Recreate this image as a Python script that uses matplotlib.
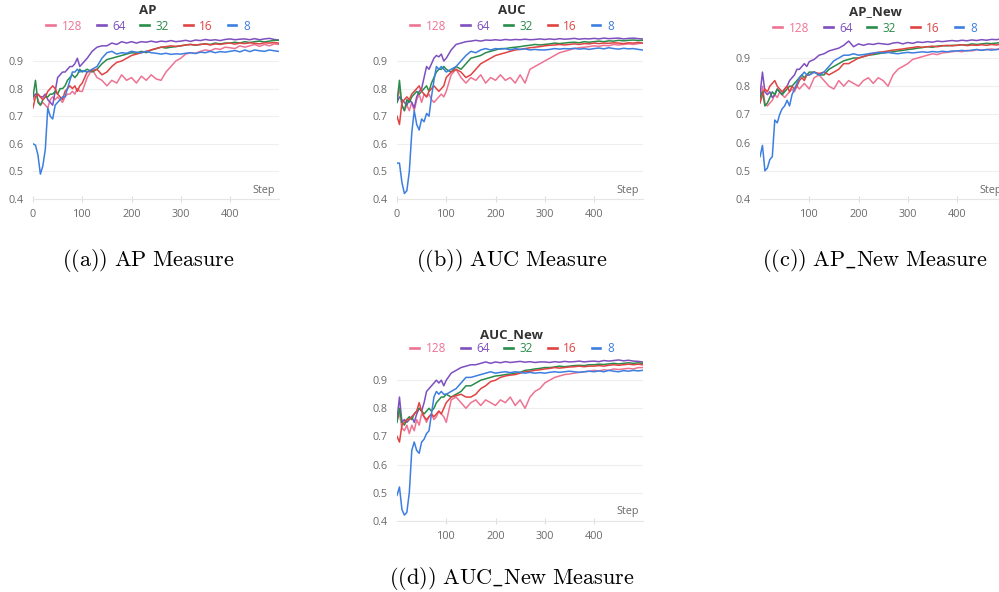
import matplotlib
matplotlib.use("Agg")
import matplotlib.pyplot as plt

plt.rcParams["font.family"] = ["Open Sans", "DejaVu Sans"]
plt.rcParams["mathtext.fontset"] = "cm"

# steps every 5 up to 100, then every 10, last logged step 498
steps = list(range(0, 100, 5)) + list(range(100, 500, 10)) + [498]

series_names = ["128", "64", "32", "16", "8"]
series_colors = ["#EE7393", "#7E4FBF", "#2A8C4A", "#E04343", "#3C7FE0"]

# ---- AP ----
ap_128 = [0.76, 0.78, 0.76, 0.74, 0.75, 0.74, 0.73, 0.76, 0.77, 0.76, 0.77, 0.76, 0.75, 0.77, 0.78, 0.78, 0.79, 0.78, 0.80, 0.79,
          0.79, 0.84, 0.87, 0.84, 0.83, 0.81, 0.83, 0.82, 0.85, 0.83,
          0.84, 0.82, 0.845, 0.83, 0.85, 0.835, 0.83, 0.86, 0.88, 0.90,
          0.91, 0.925, 0.93, 0.928, 0.935, 0.94, 0.937, 0.945, 0.942, 0.95,
          0.948, 0.945, 0.955, 0.95, 0.955, 0.96, 0.953, 0.96, 0.955, 0.962,
          0.96]
ap_64 = [0.77, 0.78, 0.78, 0.77, 0.77, 0.78, 0.76, 0.75, 0.74, 0.79, 0.84, 0.85, 0.86, 0.86, 0.87, 0.88, 0.88, 0.89, 0.91, 0.88,
         0.89, 0.91, 0.935, 0.95, 0.955, 0.955, 0.965, 0.96, 0.97, 0.965,
         0.97, 0.965, 0.97, 0.968, 0.972, 0.968, 0.972, 0.97, 0.974, 0.97,
         0.972, 0.975, 0.971, 0.976, 0.974, 0.978, 0.975, 0.977, 0.974, 0.978,
         0.98, 0.977, 0.979, 0.98, 0.977, 0.981, 0.977, 0.98, 0.982, 0.978,
         0.976]
ap_32 = [0.77, 0.83, 0.75, 0.74, 0.76, 0.77, 0.77, 0.78, 0.78, 0.79, 0.78, 0.80, 0.80, 0.81, 0.83, 0.84, 0.85, 0.84, 0.85, 0.87,
         0.86, 0.87, 0.86, 0.87, 0.89, 0.905, 0.91, 0.915, 0.92, 0.925,
         0.93, 0.928, 0.935, 0.93, 0.94, 0.945, 0.95, 0.947, 0.95, 0.952,
         0.955, 0.958, 0.96, 0.957, 0.96, 0.962, 0.96, 0.965, 0.962, 0.965,
         0.965, 0.968, 0.965, 0.97, 0.967, 0.97, 0.972, 0.969, 0.972, 0.975,
         0.975]
ap_16 = [0.73, 0.77, 0.78, 0.77, 0.76, 0.77, 0.79, 0.80, 0.81, 0.80, 0.78, 0.77, 0.76, 0.79, 0.80, 0.81, 0.80, 0.81, 0.79, 0.81,
         0.82, 0.86, 0.865, 0.87, 0.85, 0.86, 0.88, 0.895, 0.90, 0.91,
         0.92, 0.925, 0.93, 0.935, 0.94, 0.945, 0.95, 0.952, 0.955, 0.953,
         0.955, 0.958, 0.96, 0.958, 0.96, 0.962, 0.958, 0.962, 0.96, 0.963,
         0.965, 0.961, 0.965, 0.963, 0.966, 0.964, 0.962, 0.966, 0.965, 0.967,
         0.965]
ap_8 = [0.60, 0.595, 0.56, 0.49, 0.52, 0.58, 0.73, 0.70, 0.69, 0.74, 0.75, 0.76, 0.77, 0.77, 0.80, 0.83, 0.86, 0.86, 0.87, 0.86,
        0.865, 0.86, 0.87, 0.88, 0.91, 0.93, 0.935, 0.925, 0.93, 0.928,
        0.935, 0.932, 0.93, 0.935, 0.93, 0.928, 0.925, 0.928, 0.924, 0.926,
        0.925, 0.928, 0.93, 0.927, 0.932, 0.93, 0.935, 0.93, 0.934, 0.932,
        0.935, 0.938, 0.933, 0.94, 0.934, 0.94, 0.937, 0.935, 0.94, 0.937,
        0.935]

# ---- AUC ----
auc_128 = [0.76, 0.80, 0.74, 0.72, 0.74, 0.72, 0.75, 0.72, 0.76, 0.78, 0.75, 0.78, 0.77, 0.78, 0.76, 0.75, 0.76, 0.77, 0.78, 0.77,
           0.79, 0.85, 0.87, 0.84, 0.82, 0.84, 0.83, 0.85, 0.82, 0.84,
           0.83, 0.85, 0.83, 0.84, 0.82, 0.85, 0.82, 0.87, 0.88, 0.89,
           0.90, 0.91, 0.92, 0.93, 0.935, 0.94, 0.945, 0.948, 0.95, 0.952,
           0.955, 0.953, 0.957, 0.955, 0.96, 0.958, 0.96, 0.962, 0.96, 0.963,
           0.965]
auc_64 = [0.75, 0.77, 0.76, 0.75, 0.74, 0.76, 0.75, 0.73, 0.77, 0.79, 0.80, 0.84, 0.88, 0.87, 0.89, 0.91, 0.92, 0.915, 0.925, 0.90,
          0.91, 0.94, 0.96, 0.965, 0.97, 0.972, 0.975, 0.972, 0.976, 0.975,
          0.977, 0.975, 0.978, 0.976, 0.978, 0.977, 0.979, 0.977, 0.978, 0.98,
          0.978, 0.98, 0.978, 0.981, 0.979, 0.98, 0.982, 0.979, 0.981, 0.98,
          0.982, 0.98, 0.983, 0.981, 0.982, 0.983, 0.98, 0.982, 0.983, 0.981,
          0.98]
auc_32 = [0.75, 0.83, 0.74, 0.72, 0.76, 0.75, 0.77, 0.78, 0.79, 0.78, 0.79, 0.80, 0.81, 0.79, 0.82, 0.84, 0.86, 0.87, 0.87, 0.88,
          0.87, 0.86, 0.88, 0.87, 0.89, 0.91, 0.915, 0.92, 0.93, 0.935,
          0.94, 0.945, 0.945, 0.948, 0.95, 0.952, 0.955, 0.957, 0.96, 0.958,
          0.96, 0.962, 0.965, 0.963, 0.965, 0.967, 0.968, 0.966, 0.97, 0.968,
          0.97, 0.972, 0.97, 0.973, 0.972, 0.975, 0.973, 0.975, 0.976, 0.974,
          0.975]
auc_16 = [0.70, 0.67, 0.75, 0.76, 0.77, 0.76, 0.78, 0.79, 0.80, 0.81, 0.79, 0.78, 0.77, 0.79, 0.80, 0.81, 0.80, 0.79, 0.80, 0.81,
          0.84, 0.86, 0.87, 0.86, 0.84, 0.85, 0.87, 0.89, 0.90, 0.91,
          0.92, 0.925, 0.93, 0.935, 0.94, 0.942, 0.945, 0.948, 0.95, 0.952,
          0.955, 0.957, 0.958, 0.96, 0.958, 0.96, 0.962, 0.96, 0.963, 0.962,
          0.965, 0.963, 0.965, 0.964, 0.966, 0.965, 0.963, 0.966, 0.965, 0.967,
          0.965]
auc_8 = [0.53, 0.53, 0.46, 0.42, 0.43, 0.50, 0.64, 0.72, 0.67, 0.65, 0.69, 0.68, 0.71, 0.70, 0.77, 0.83, 0.88, 0.87, 0.88, 0.87,
         0.86, 0.87, 0.88, 0.90, 0.92, 0.935, 0.93, 0.94, 0.945, 0.94,
         0.945, 0.943, 0.945, 0.94, 0.945, 0.942, 0.944, 0.94, 0.942, 0.94,
         0.94, 0.942, 0.945, 0.943, 0.945, 0.944, 0.946, 0.943, 0.945, 0.942,
         0.945, 0.947, 0.944, 0.948, 0.945, 0.943, 0.946, 0.944, 0.945, 0.942,
         0.94]

# ---- AP_New ----
apn_128 = [0.75, 0.80, 0.74, 0.73, 0.74, 0.75, 0.77, 0.76, 0.78, 0.77, 0.76, 0.77, 0.78, 0.79, 0.78, 0.80, 0.79, 0.80, 0.81, 0.80,
           0.79, 0.83, 0.84, 0.82, 0.80, 0.79, 0.82, 0.80, 0.82, 0.81,
           0.80, 0.82, 0.83, 0.81, 0.83, 0.82, 0.80, 0.84, 0.86, 0.87,
           0.88, 0.895, 0.90, 0.905, 0.91, 0.915, 0.912, 0.918, 0.92, 0.922,
           0.925, 0.922, 0.927, 0.925, 0.93, 0.928, 0.93, 0.932, 0.93, 0.935,
           0.935]
apn_64 = [0.77, 0.85, 0.78, 0.77, 0.78, 0.76, 0.77, 0.79, 0.78, 0.77, 0.79, 0.80, 0.82, 0.83, 0.84, 0.86, 0.86, 0.87, 0.88, 0.87,
          0.887, 0.895, 0.91, 0.915, 0.925, 0.93, 0.935, 0.945, 0.96, 0.94,
          0.95, 0.945, 0.95, 0.948, 0.952, 0.95, 0.948, 0.953, 0.955, 0.95,
          0.955, 0.952, 0.957, 0.955, 0.958, 0.956, 0.96, 0.958, 0.96, 0.962,
          0.96, 0.963, 0.961, 0.964, 0.962, 0.965, 0.963, 0.966, 0.965, 0.968,
          0.97]
apn_32 = [0.76, 0.78, 0.73, 0.74, 0.76, 0.78, 0.77, 0.79, 0.78, 0.77, 0.78, 0.79, 0.80, 0.80, 0.81, 0.82, 0.83, 0.84, 0.83, 0.84,
          0.85, 0.85, 0.84, 0.84, 0.86, 0.87, 0.88, 0.89, 0.895, 0.90,
          0.90, 0.905, 0.91, 0.912, 0.915, 0.918, 0.92, 0.922, 0.925, 0.927,
          0.93, 0.932, 0.935, 0.937, 0.94, 0.938, 0.942, 0.944, 0.943, 0.945,
          0.945, 0.947, 0.946, 0.95, 0.948, 0.95, 0.952, 0.951, 0.953, 0.955,
          0.955]
apn_16 = [0.74, 0.77, 0.79, 0.78, 0.80, 0.81, 0.82, 0.80, 0.79, 0.78, 0.79, 0.80, 0.78, 0.80, 0.79, 0.80, 0.82, 0.83, 0.82, 0.84,
          0.84, 0.85, 0.845, 0.85, 0.84, 0.85, 0.86, 0.88, 0.88, 0.89,
          0.90, 0.905, 0.91, 0.915, 0.92, 0.922, 0.925, 0.928, 0.93, 0.932,
          0.935, 0.937, 0.94, 0.938, 0.94, 0.942, 0.94, 0.943, 0.945, 0.943,
          0.945, 0.947, 0.944, 0.946, 0.945, 0.947, 0.945, 0.948, 0.946, 0.95,
          0.95]
apn_8 = [0.55, 0.59, 0.50, 0.51, 0.54, 0.55, 0.68, 0.67, 0.70, 0.72, 0.73, 0.75, 0.73, 0.77, 0.79, 0.81, 0.83, 0.84, 0.85, 0.84,
         0.84, 0.85, 0.84, 0.85, 0.87, 0.89, 0.90, 0.91, 0.91, 0.915,
         0.91, 0.912, 0.915, 0.918, 0.92, 0.918, 0.92, 0.917, 0.915, 0.918,
         0.92, 0.918, 0.92, 0.922, 0.92, 0.923, 0.921, 0.924, 0.922, 0.925,
         0.925, 0.927, 0.925, 0.928, 0.93, 0.927, 0.93, 0.928, 0.93, 0.932,
         0.93]

# ---- AUC_New ----
aucn_128 = [0.76, 0.78, 0.73, 0.72, 0.74, 0.71, 0.74, 0.72, 0.76, 0.74, 0.78, 0.77, 0.75, 0.77, 0.78, 0.76, 0.77, 0.79, 0.78, 0.77,
            0.75, 0.83, 0.84, 0.82, 0.80, 0.82, 0.83, 0.81, 0.83, 0.82,
            0.81, 0.83, 0.82, 0.84, 0.81, 0.83, 0.80, 0.84, 0.86, 0.87,
            0.89, 0.90, 0.91, 0.915, 0.92, 0.922, 0.925, 0.928, 0.93, 0.932,
            0.935, 0.933, 0.937, 0.935, 0.94, 0.938, 0.94, 0.942, 0.94, 0.945,
            0.945]
aucn_64 = [0.76, 0.84, 0.75, 0.76, 0.75, 0.76, 0.77, 0.75, 0.78, 0.80, 0.79, 0.82, 0.86, 0.87, 0.88, 0.89, 0.90, 0.89, 0.90, 0.88,
           0.90, 0.925, 0.935, 0.945, 0.95, 0.955, 0.955, 0.96, 0.965, 0.96,
           0.965, 0.962, 0.966, 0.963, 0.965, 0.967, 0.964, 0.966, 0.963, 0.965,
           0.965, 0.963, 0.966, 0.964, 0.967, 0.965, 0.966, 0.968, 0.965, 0.967,
           0.968, 0.966, 0.97, 0.968, 0.97, 0.972, 0.969, 0.971, 0.968, 0.967,
           0.965]
aucn_32 = [0.75, 0.80, 0.75, 0.74, 0.76, 0.77, 0.76, 0.78, 0.79, 0.80, 0.79, 0.78, 0.79, 0.80, 0.79, 0.80, 0.82, 0.83, 0.84, 0.84,
           0.85, 0.84, 0.85, 0.86, 0.88, 0.88, 0.89, 0.90, 0.905, 0.91,
           0.915, 0.917, 0.92, 0.922, 0.925, 0.928, 0.935, 0.937, 0.94, 0.942,
           0.945, 0.945, 0.947, 0.95, 0.948, 0.95, 0.952, 0.953, 0.952, 0.955,
           0.955, 0.957, 0.956, 0.958, 0.96, 0.958, 0.96, 0.962, 0.96, 0.962,
           0.96]
aucn_16 = [0.70, 0.68, 0.74, 0.75, 0.76, 0.76, 0.77, 0.78, 0.79, 0.82, 0.79, 0.77, 0.76, 0.77, 0.78, 0.77, 0.78, 0.79, 0.78, 0.80,
           0.82, 0.84, 0.845, 0.85, 0.84, 0.84, 0.85, 0.87, 0.88, 0.895,
           0.90, 0.91, 0.915, 0.918, 0.92, 0.925, 0.93, 0.932, 0.935, 0.937,
           0.94, 0.942, 0.945, 0.943, 0.945, 0.947, 0.948, 0.95, 0.948, 0.95,
           0.95, 0.952, 0.95, 0.953, 0.955, 0.953, 0.955, 0.957, 0.955, 0.957,
           0.955]
aucn_8 = [0.49, 0.52, 0.44, 0.42, 0.43, 0.50, 0.65, 0.68, 0.65, 0.64, 0.68, 0.69, 0.71, 0.72, 0.78, 0.84, 0.86, 0.85, 0.86, 0.85,
          0.85, 0.86, 0.87, 0.89, 0.91, 0.91, 0.915, 0.92, 0.925, 0.93,
          0.925, 0.928, 0.93, 0.927, 0.93, 0.928, 0.925, 0.928, 0.925, 0.927,
          0.925, 0.928, 0.93, 0.928, 0.93, 0.932, 0.93, 0.928, 0.93, 0.932,
          0.93, 0.933, 0.93, 0.935, 0.932, 0.93, 0.934, 0.932, 0.935, 0.933,
          0.935]

W, H = 999, 592
fig = plt.figure(figsize=(W / 100, H / 100), dpi=100)

# panel: title, caption, data, x of step 0 (px), y of 0.4 (px), px per unit, x ticks, title/legend/caption anchors
panels = [
    ("AP", r"$\mathrm{((a))\ AP\ Measure}$", [ap_128, ap_64, ap_32, ap_16, ap_8],
     33, 199, 276, [0, 100, 200, 300, 400], 148, 11, 26, 260),
    ("AUC", r"$\mathrm{((b))\ AUC\ Measure}$", [auc_128, auc_64, auc_32, auc_16, auc_8],
     397, 199, 276, [0, 100, 200, 300, 400], 512, 11, 26, 260),
    ("AP_New", r"$\mathrm{((c))\ AP\_New\ Measure}$", [apn_128, apn_64, apn_32, apn_16, apn_8],
     760, 199, 282, [100, 200, 300, 400], 875, 12, 28, 260),
    ("AUC_New", r"$\mathrm{((d))\ AUC\_New\ Measure}$", [aucn_128, aucn_64, aucn_32, aucn_16, aucn_8],
     397, 520.7, 281, [100, 200, 300, 400], 512, 335, 349, 579),
]

px_per_step = 0.4925
ymin, ymax = 0.4, 0.99

for title, caption, data, x0, ybase, sy, xticks, cx, ty, ly, cy in panels:
    ax = fig.add_axes([x0 / W, (H - ybase) / H, 500 * px_per_step / W, (ymax - ymin) * sy / H])
    for name, color, vals in zip(series_names, series_colors, data):
        ax.plot(steps, vals, color=color, lw=1.1, label=name)
    ax.set_xlim(0, 500)
    ax.set_ylim(ymin, ymax)
    ax.set_yticks([0.4, 0.5, 0.6, 0.7, 0.8, 0.9])
    ax.set_xticks(xticks)
    ax.grid(axis="y", color="#eeeeee", lw=0.8)
    ax.set_axisbelow(True)
    for s in ["top", "right", "left"]:
        ax.spines[s].set_visible(False)
    ax.spines["bottom"].set_color("#e6e6e6")
    ax.tick_params(axis="y", length=0, pad=7, labelsize=7.8, labelcolor="#6a6a6a")
    ax.tick_params(axis="x", length=5, direction="inout", color="#dddddd", pad=5,
                   labelsize=7.8, labelcolor="#6a6a6a")
    ax.text(492, 0.412, "Step", ha="right", va="bottom", fontsize=7.8, color="#6a6a6a")

    fig.text(cx / W, 1 - ty / H, title, ha="center", va="center", fontsize=9.5,
             fontweight="bold", color="#333333")
    # legend with short thick handles, labels in series colour
    handles = [plt.Line2D([], [], color=c, lw=1.9) for c in series_colors]
    fig.legend(handles, series_names, loc="center", bbox_to_anchor=(cx / W, 1 - ly / H), ncol=5,
               frameon=False, fontsize=8.5, labelcolor=series_colors, handlelength=0.75,
               handletextpad=0.55, columnspacing=1.25, borderaxespad=0, borderpad=0)
    fig.text(cx / W, 1 - cy / H, caption, ha="center", va="center", fontsize=16, color="black")

fig.savefig("out.png", dpi=100)
